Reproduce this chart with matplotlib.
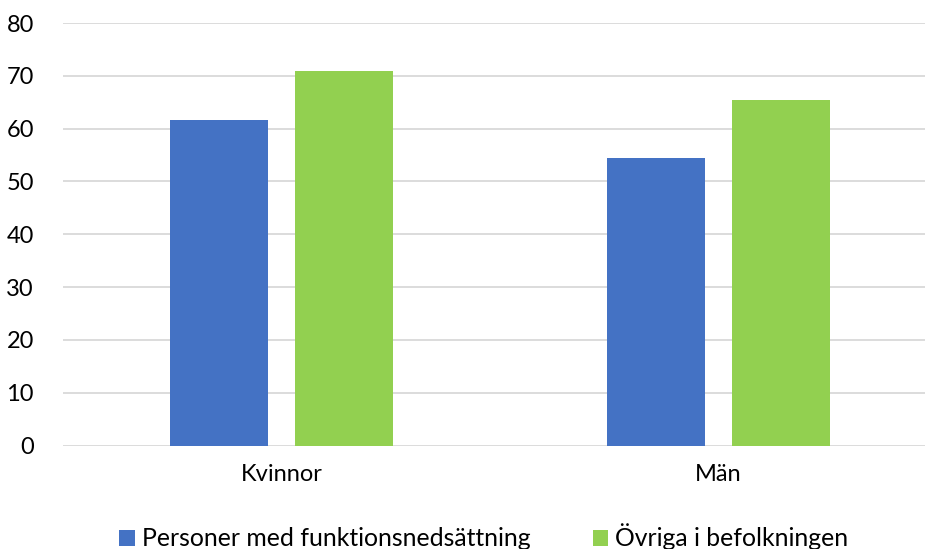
import numpy as np
import matplotlib
matplotlib.use('Agg')
import matplotlib.pyplot as plt

plt.rcParams['font.family'] = ['Lato', 'DejaVu Sans']

categories = ['Kvinnor', 'Män']
series_names = ['Personer med funktionsnedsättning', 'Övriga i befolkningen']
funk = [61.6, 54.5]
ovriga = [70.9, 65.5]
yticks = [0, 10, 20, 30, 40, 50, 60, 70, 80]

W, H = 925, 549
fig = plt.figure(figsize=(W / 100, H / 100), dpi=100)
# plot area: left edge at 63 px, continues past the right side of the image
ax = fig.add_axes([63 / W, (H - 445.6) / H, (W - 63) / W, (445.6 - 23) / H])

x = np.arange(len(categories))
bw = 0.224
off = 0.143
b1 = ax.bar(x - off, funk, bw, color='#4472C4', label=series_names[0], zorder=3)
b2 = ax.bar(x + off, ovriga, bw, color='#92D050', label=series_names[1], zorder=3)

ax.set_xlim(-0.5, -0.5 + (W - 63) / 437)
ax.set_ylim(0, 80)
ax.set_yticks(yticks)
ax.set_xticks(x)
ax.set_xticklabels(categories)
ax.grid(axis='y', color='#D9D9D9', linewidth=1.3, zorder=0)
for s in ax.spines.values():
    s.set_visible(False)
ax.tick_params(axis='both', length=0, labelsize=17, colors='black')
ax.tick_params(axis='y', pad=21)
ax.tick_params(axis='x', pad=13)

fig.legend(handles=[b1, b2], loc='center', bbox_to_anchor=(484 / W, (H - 537) / H),
           ncol=2, frameon=False, fontsize=17.8, handlelength=0.62, handleheight=0.62,
           handletextpad=0.3, columnspacing=2.5)

fig.savefig('out.png', dpi=100)
